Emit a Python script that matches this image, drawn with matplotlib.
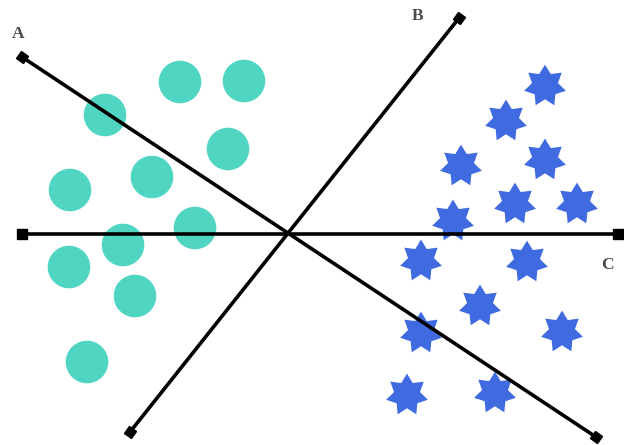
import numpy as np
import matplotlib.pyplot as plt
from matplotlib.path import Path
from matplotlib.markers import MarkerStyle
from matplotlib.transforms import Affine2D

# circle class (x, y) in pixel-like units, y grows downward
circle_x = [105, 180, 244, 228, 152, 70, 195, 123, 69, 135, 87]
circle_y = [115, 82, 81, 149, 177, 190, 228, 245, 267, 296, 362]

# star class
star_x = [545, 506, 545, 461, 515, 577, 453, 421, 527, 480, 562, 421, 407, 495]
star_y = [86, 121, 160, 166, 204, 204, 221, 261, 262, 306, 332, 333, 395, 393]

# separating lines: name, start, end, label position
line_names = ["A", "B", "C"]
line_x0 = [22, 130, 22]
line_y0 = [57, 432, 234]
line_x1 = [596, 459, 618]
line_y1 = [437, 18, 234]
label_x = [18, 418, 607]
label_y = [34, 16, 265]

fig = plt.figure(figsize=(6.24, 4.45), dpi=100)
ax = fig.add_axes([0, 0, 1, 1])
ax.set_xlim(0, 624)
ax.set_ylim(445, 0)
ax.axis("off")

for name, x0, y0, x1, y1, lx, ly in zip(line_names, line_x0, line_y0, line_x1, line_y1, label_x, label_y):
    ax.plot([x0, x1], [y0, y1], color="black", lw=2.6, zorder=3, solid_capstyle="butt")
    ang = np.degrees(np.arctan2(-(y1 - y0), x1 - x0))
    sq = MarkerStyle("s", transform=Affine2D().rotate_deg(ang))
    ax.plot([x0, x1], [y0, y1], ls="none", marker=sq, ms=6.5, color="black", zorder=4)
    ax.text(lx, ly, name, fontsize=12.5, fontweight="bold", family="Liberation Serif",
            color="#4a4a4a", ha="center", va="center")

ax.scatter(circle_x, circle_y, s=940, color="#4fd5c2", edgecolors="none", zorder=2)

star = Path.unit_regular_star(7, 0.62)
ax.scatter(star_x, star_y, s=950, marker=star, color="#3f6ae0", edgecolors="none", zorder=2)

fig.savefig("out.png", dpi=100)
